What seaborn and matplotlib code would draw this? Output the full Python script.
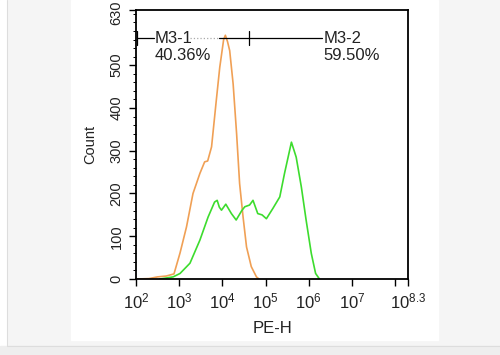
import numpy as np
import pandas as pd
import seaborn as sns
import matplotlib.pyplot as plt
import matplotlib.transforms as mtransforms
from matplotlib.patches import Rectangle
from matplotlib.lines import Line2D
from matplotlib.ticker import FixedLocator, MultipleLocator, NullFormatter

# histogram traces (log10 of PE-H, count)
orange_log = [2.0, 2.3, 2.5, 2.7, 2.88, 3.02, 3.17, 3.32, 3.48, 3.59, 3.66, 3.75, 3.86, 3.94,
              4.03, 4.07, 4.12, 4.17, 4.25, 4.33, 4.40, 4.48, 4.56, 4.67, 4.79, 4.85]
orange_cnt = [0, 1, 5, 7, 12, 61, 122, 200, 247, 274, 276, 309, 418, 495,
              560, 570, 555, 534, 456, 340, 223, 145, 75, 29, 5, 0]

green_log = [2.55, 2.86, 3.02, 3.25, 3.48, 3.67, 3.82, 3.88, 3.93, 3.98, 4.08, 4.21, 4.32, 4.45,
             4.52, 4.63, 4.71, 4.82, 4.92, 5.02, 5.17, 5.33, 5.44, 5.60, 5.71, 5.83, 5.94,
             6.06, 6.16, 6.25]
green_cnt = [0, 5, 13, 37, 91, 145, 180, 184, 168, 161, 175, 153, 138, 160,
             169, 173, 184, 153, 150, 141, 165, 192, 247, 320, 285, 215, 138,
             60, 13, 0]

# gates
gate_y = 563
m1_start, m1_end = 2.02, 4.61
m2_end = 6.30
m1_label, m1_pct = "M3-1", "40.36%"
m2_label, m2_pct = "M3-2", "59.50%"

y_ticks = [0, 100, 200, 300, 400, 500, 630]
x_decades = [2, 3, 4, 5, 6, 7, 8]

df_o = pd.DataFrame({"PE-H": np.power(10.0, orange_log), "Count": orange_cnt})
df_g = pd.DataFrame({"PE-H": np.power(10.0, green_log), "Count": green_cnt})

sns.set_style("white")
plt.rcParams['font.family'] = ['Liberation Sans', 'DejaVu Sans']
plt.rcParams['mathtext.fontset'] = 'custom'
plt.rcParams['mathtext.rm'] = 'Liberation Sans'
plt.rcParams['mathtext.it'] = 'Liberation Sans'

fig = plt.figure(figsize=(5, 3.55), dpi=100, facecolor='#f5f5f5')
# page background pieces
for r in [Rectangle((0, 0), 0.014, 1, color='white'),
          Rectangle((0, 0), 1, 0.025, color='#eeeeee'),
          Rectangle((0.142, 0.042), 0.734, 0.958, color='white')]:
    r.set_transform(fig.transFigure)
    r.set_zorder(-10)
    fig.add_artist(r)
for ln in [Line2D([0.014, 0.014], [0.025, 1], color='#dddddd', lw=0.8),
           Line2D([0.014, 1], [0.025, 0.025], color='#dddddd', lw=0.8)]:
    ln.set_transform(fig.transFigure)
    ln.set_zorder(-9)
    fig.add_artist(ln)

ax = fig.add_axes([0.272, 0.214, 0.544, 0.759])
ax.set_facecolor('white')

sns.lineplot(data=df_o, x="PE-H", y="Count", color='#f0a055', lw=1.2, estimator=None, ax=ax)
sns.lineplot(data=df_g, x="PE-H", y="Count", color='#3ddc2e', lw=1.2, estimator=None, ax=ax)

ax.set_xscale('log')
ax.set_xlim(1e2, 10 ** 8.3)
ax.set_ylim(0, 630)

xt = [10.0 ** d for d in x_decades] + [10 ** 8.3]
xl = [r'$\mathregular{10^{%d}}$' % d for d in x_decades[:-1]] + ['', r'$\mathregular{10^{8.3}}$']
ax.xaxis.set_major_locator(FixedLocator(xt))
ax.set_xticklabels(xl, fontsize=12)
ax.xaxis.set_minor_formatter(NullFormatter())
ax.yaxis.set_major_locator(FixedLocator(y_ticks))
ax.set_yticklabels([str(v) for v in y_ticks], fontsize=10.5, rotation=90, va='center')
ax.yaxis.set_minor_locator(MultipleLocator(20))

ax.tick_params(axis='both', which='major', direction='out', length=5, width=1, color='black',
               bottom=True, left=True, labelcolor='#222222', pad=4)
ax.tick_params(axis='both', which='minor', direction='out', length=2.5, width=0.7, color='black',
               bottom=True, left=True)
for s in ax.spines.values():
    s.set_color('black')
    s.set_linewidth(1.3)

# nudge the top "630" label down so it stays inside the picture
top_lab = ax.get_yticklabels()[-1]
top_lab.set_transform(top_lab.get_transform() +
                      mtransforms.ScaledTranslation(0, -2.5 / 72, fig.dpi_scale_trans))

ax.set_xlabel("PE-H", fontsize=12, color='#222222', labelpad=7)
ax.set_ylabel("Count", fontsize=10.5, color='#222222', labelpad=9)

# gate markers
lg = lambda v: 10.0 ** v
ax.plot([lg(m1_start), lg(2.42)], [gate_y, gate_y], color='black', lw=0.9)
ax.plot([lg(3.25), lg(3.92)], [gate_y, gate_y], color='#aaaaaa', lw=0.9, ls=':')
ax.plot([lg(3.92), lg(m2_end)], [gate_y, gate_y], color='black', lw=0.9)
for v in (m1_start, m1_end):
    ax.plot([lg(v), lg(v)], [gate_y - 16, gate_y + 16], color='black', lw=0.9)
ax.text(lg(2.44), gate_y, m1_label, fontsize=12, va='center', ha='left', color='#222222')
ax.text(lg(2.44), 522, m1_pct, fontsize=12, va='center', ha='left', color='#222222')
ax.text(lg(6.34), gate_y, m2_label, fontsize=12, va='center', ha='left', color='#222222')
ax.text(lg(6.34), 522, m2_pct, fontsize=12, va='center', ha='left', color='#222222')

fig.savefig("out.png", dpi=100, facecolor=fig.get_facecolor())
